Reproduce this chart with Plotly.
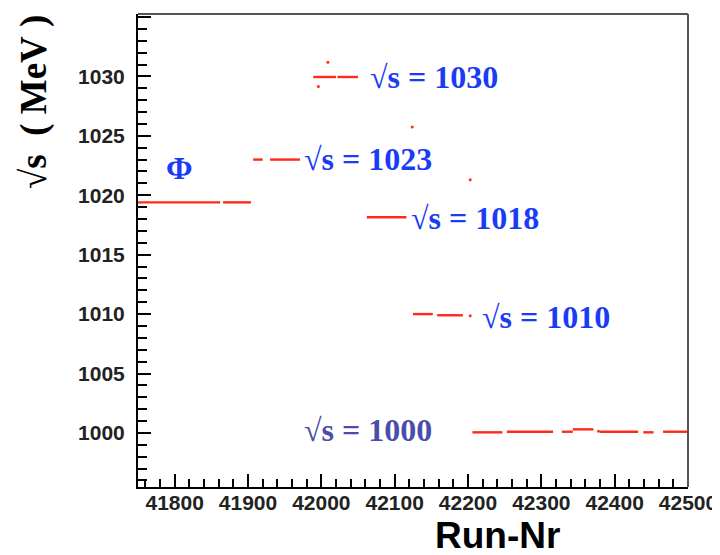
import plotly.graph_objects as go

# Run ranges (start, end) and measured sqrt(s) in MeV for each stretch of runs
seg_run_start = [41750, 41866, 41907, 41930, 41989, 42022, 42062, 42125, 42158,
                 42206, 42253, 42328, 42343, 42380, 42439, 42466]
seg_run_end   = [41862, 41904, 41920, 41971, 42020, 42050, 42116, 42152, 42193,
                 42247, 42316, 42343, 42371, 42432, 42453, 42499]
seg_energy    = [1019.4, 1019.4, 1023.0, 1023.0, 1029.95, 1029.95, 1018.15, 1010.0, 1009.9,
                 1000.05, 1000.1, 1000.1, 1000.3, 1000.1, 1000.05, 1000.1]

# Isolated runs
out_run    = [41996, 42009, 42124, 42203, 42203, 42378]
out_energy = [1029.15, 1031.2, 1025.75, 1021.3, 1009.85, 1000.15]

# Energy point labels
label_text   = ["Φ", "√s = 1023", "√s = 1030", "√s = 1018", "√s = 1010", "√s = 1000"]
label_run    = [41806, 41974, 42064, 42119, 42217, 41974]
label_energy = [1022.3, 1023.05, 1029.95, 1018.1, 1009.76, 1000.25]
label_color  = ["#1a3cf5", "#1a3cf5", "#1a3cf5", "#1a3cf5", "#1a3cf5", "#4a4eab"]

x_tick_vals = [41800, 41900, 42000, 42100, 42200, 42300, 42400, 42500]
y_tick_vals = [1000, 1005, 1010, 1015, 1020, 1025, 1030, 1035]

xs, ys = [], []
for a, b, e in zip(seg_run_start, seg_run_end, seg_energy):
    xs += [a, b, None]
    ys += [e, e, None]

fig = go.Figure()
fig.add_trace(go.Scatter(x=xs, y=ys, mode="lines",
                         line=dict(color="#ff2a1a", width=2.4),
                         hoverinfo="skip", showlegend=False))
fig.add_trace(go.Scatter(x=out_run, y=out_energy, mode="markers",
                         marker=dict(color="#ff2a1a", size=3),
                         showlegend=False))

for t, xr, yr, c in zip(label_text, label_run, label_energy, label_color):
    fig.add_annotation(x=xr, y=yr, text=f"<b>{t}</b>", showarrow=False,
                       xanchor="left" if t != "Φ" else "center", yanchor="middle",
                       font=dict(family="Liberation Serif", size=32, color=c))

# Axis titles (page pixel targets converted to plot-area paper coords)
PL, PT, PW, PH = 138, 14, 550, 473
fig.add_annotation(xref="paper", yref="paper", x=(34 - PL) / PW, y=(PT + PH - 102) / PH,
                   text="<b>√s\u00a0\u00a0(\u00a0MeV\u00a0)</b>", textangle=-90,
                   showarrow=False, xanchor="center", yanchor="middle",
                   font=dict(family="Liberation Serif", size=37, color="black"))
fig.add_annotation(xref="paper", yref="paper", x=(497 - PL) / PW, y=(PT + PH - 535) / PH,
                   text="<b>Run-Nr</b>", showarrow=False,
                   xanchor="center", yanchor="middle",
                   font=dict(family="Liberation Sans", size=37, color="black"))

# top/right frame
fig.add_shape(type="line", xref="paper", yref="paper", x0=0, x1=1, y0=1, y1=1,
              line=dict(color="#555555", width=2))
fig.add_shape(type="line", xref="paper", yref="paper", x0=1, x1=1, y0=0, y1=1,
              line=dict(color="#555555", width=2))

tickfont = dict(family="Liberation Sans", size=21, color="#222222", weight="bold")
fig.update_xaxes(range=[41750, 42500], tickvals=x_tick_vals, tickformat="d",
                 ticks="inside", ticklen=13, automargin=False, ticklabelstandoff=-4,
                 tickwidth=2, tickcolor="black", showline=True, linecolor="black", linewidth=2,
                 showgrid=False, zeroline=False, tickfont=tickfont,
                 minor=dict(dtick=20, tick0=41760, ticks="inside", ticklen=8, tickwidth=2,
                            tickcolor="black", showgrid=False))
fig.update_yaxes(range=[995.45, 1035.25], tickvals=y_tick_vals, tickformat="d",
                 ticks="inside", ticklen=13, automargin=False, ticklabelstandoff=7,
                 tickwidth=2, tickcolor="black", showline=True, linecolor="black", linewidth=2,
                 showgrid=False, zeroline=False, tickfont=tickfont,
                 minor=dict(dtick=1, tick0=1000, ticks="inside", ticklen=9, tickwidth=2,
                            tickcolor="black", showgrid=False))

# page body has an 8px offset, so margins are shifted to land the plot area at the target pixels
fig.update_layout(width=720, height=555, margin=dict(l=PL - 8, r=720 - PL - PW + 8, t=PT - 8,
                                                     b=555 - PT - PH + 8),
                  plot_bgcolor="white", paper_bgcolor="white")

fig.write_html("out.html")
